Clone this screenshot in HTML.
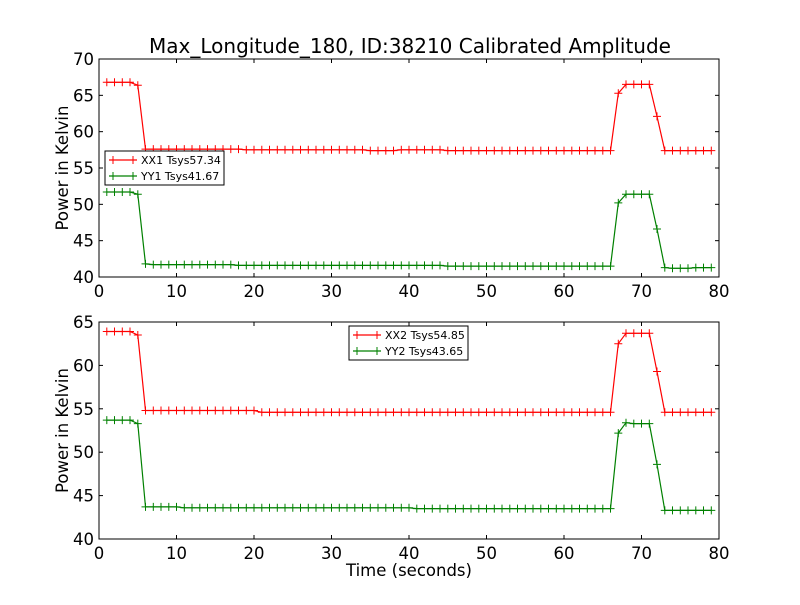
<!DOCTYPE html>
<html><head><meta charset="utf-8"><style>
body{margin:0;background:#fff;}
svg text{font-family:"DejaVu Sans","Liberation Sans",sans-serif;}
</style></head><body>
<svg id="chart" width="800" height="600" xmlns="http://www.w3.org/2000/svg"></svg>
<script>
const times=[1,2,3,4,5,6,7,8,9,10,11,12,13,14,15,16,17,18,19,20,21,22,23,24,25,26,27,28,29,30,31,32,33,34,35,36,37,38,39,40,41,42,43,44,45,46,47,48,49,50,51,52,53,54,55,56,57,58,59,60,61,62,63,64,65,66,67,68,69,70,71,72,73,74,75,76,77,78,79];
const xx1=[66.8,66.8,66.8,66.8,66.4,57.6,57.6,57.6,57.6,57.6,57.6,57.6,57.6,57.6,57.6,57.6,57.6,57.6,57.5,57.5,57.5,57.5,57.5,57.5,57.5,57.5,57.5,57.5,57.5,57.5,57.5,57.5,57.5,57.5,57.4,57.4,57.4,57.4,57.5,57.5,57.5,57.5,57.5,57.5,57.4,57.4,57.4,57.4,57.4,57.4,57.4,57.4,57.4,57.4,57.4,57.4,57.4,57.4,57.4,57.4,57.4,57.4,57.4,57.4,57.4,57.4,65.3,66.5,66.5,66.5,66.5,62.1,57.4,57.4,57.4,57.4,57.4,57.4,57.4];
const yy1=[51.7,51.7,51.7,51.7,51.4,41.8,41.7,41.7,41.7,41.7,41.7,41.7,41.7,41.7,41.7,41.7,41.7,41.6,41.6,41.6,41.6,41.6,41.6,41.6,41.6,41.6,41.6,41.6,41.6,41.6,41.6,41.6,41.6,41.6,41.6,41.6,41.6,41.6,41.6,41.6,41.6,41.6,41.6,41.6,41.5,41.5,41.5,41.5,41.5,41.5,41.5,41.5,41.5,41.5,41.5,41.5,41.5,41.5,41.5,41.5,41.5,41.5,41.5,41.5,41.5,41.5,50.2,51.4,51.4,51.4,51.4,46.6,41.3,41.2,41.2,41.2,41.3,41.3,41.3];
const xx2=[63.9,63.9,63.9,63.9,63.5,54.8,54.8,54.8,54.8,54.8,54.8,54.8,54.8,54.8,54.8,54.8,54.8,54.8,54.8,54.8,54.6,54.6,54.6,54.6,54.6,54.6,54.6,54.6,54.6,54.6,54.6,54.6,54.6,54.6,54.6,54.6,54.6,54.6,54.6,54.6,54.6,54.6,54.6,54.6,54.6,54.6,54.6,54.6,54.6,54.6,54.6,54.6,54.6,54.6,54.6,54.6,54.6,54.6,54.6,54.6,54.6,54.6,54.6,54.6,54.6,54.6,62.5,63.7,63.7,63.7,63.7,59.3,54.6,54.6,54.6,54.6,54.6,54.6,54.6];
const yy2=[53.7,53.7,53.7,53.7,53.3,43.7,43.7,43.7,43.7,43.7,43.6,43.6,43.6,43.6,43.6,43.6,43.6,43.6,43.6,43.6,43.6,43.6,43.6,43.6,43.6,43.6,43.6,43.6,43.6,43.6,43.6,43.6,43.6,43.6,43.6,43.6,43.6,43.6,43.6,43.6,43.5,43.5,43.5,43.5,43.5,43.5,43.5,43.5,43.5,43.5,43.5,43.5,43.5,43.5,43.5,43.5,43.5,43.5,43.5,43.5,43.5,43.5,43.5,43.5,43.5,43.5,52.2,53.4,53.3,53.3,53.3,48.6,43.3,43.3,43.3,43.3,43.3,43.3,43.3];
const xTicks=[0,10,20,30,40,50,60,70,80];
const yTicksTop=[40,45,50,55,60,65,70];
const yTicksBot=[40,45,50,55,60,65];
const legendTop=["XX1 Tsys57.34","YY1 Tsys41.67"];
const legendBot=["XX2 Tsys54.85","YY2 Tsys43.65"];

const svg=document.getElementById('chart');
const NS="http://www.w3.org/2000/svg";
function mk(tag,attrs,parent){const e=document.createElementNS(NS,tag);for(const k in attrs)e.setAttribute(k,attrs[k]);(parent||svg).appendChild(e);return e;}

function panel(key,top,bottom,ymin,ymax,yTicks,series,legend,legendPos,showXLabel){
  const L=99,R=719;
  const g=mk('g',{});
  
  
  const sx=v=>L+(v-0)/(80-0)*(R-L);
  const sy=v=>bottom-(v-ymin)/(ymax-ymin)*(bottom-top);
  mk('rect',{x:L,y:top,width:R-L,height:bottom-top,fill:'#fff',stroke:'none'},g);
  series.forEach(s=>{
    const pts=times.map((t,i)=>sx(t).toFixed(1)+','+sy(s.vals[i]).toFixed(1)).join(' ');
    const pl=mk('polyline',{points:pts,fill:'none',stroke:s.color,'stroke-width':1.2},g);
    
    
    let d='';
    times.forEach((t,i)=>{const x=sx(t),y=sy(s.vals[i]);d+=`M${(x-4).toFixed(1)},${y.toFixed(1)}h8M${x.toFixed(1)},${(y-4).toFixed(1)}v8`;});
    const mp=mk('path',{d:d,stroke:s.color,'stroke-width':1,fill:'none'},g);
    
    
  });
  mk('rect',{x:L,y:top,width:R-L,height:bottom-top,fill:'none',stroke:'#000','stroke-width':1},g);
  xTicks.forEach(v=>{
    const x=sx(v);
    mk('line',{x1:x,y1:bottom,x2:x,y2:bottom-4,stroke:'#000'},g);
    mk('line',{x1:x,y1:top,x2:x,y2:top+4,stroke:'#000'},g);
    const t=mk('text',{x:x,y:bottom+20,'font-size':16.5,'text-anchor':'middle'},g);
    t.textContent=v;
    
    
  });
  yTicks.forEach(v=>{
    const y=sy(v);
    mk('line',{x1:L,y1:y,x2:L+4,y2:y,stroke:'#000'},g);
    mk('line',{x1:R,y1:y,x2:R-4,y2:y,stroke:'#000'},g);
    const t=mk('text',{x:L-5,y:y+6,'font-size':16.5,'text-anchor':'end'},g);
    t.textContent=v;
    
    
  });
  const yl=mk('text',{x:0,y:0,'font-size':16.5,'text-anchor':'middle',transform:`translate(68,${(top+bottom)/2}) rotate(-90)`},g);
  yl.textContent='Power in Kelvin';
  
  
  if(showXLabel){
    const xl=mk('text',{x:(L+R)/2,y:bottom+37,'font-size':16.5,'text-anchor':'middle'},g);
    xl.textContent='Time (seconds)';
    
    
  }
  const lg=mk('g',{},g);
  
  
  mk('rect',{x:legendPos[0],y:legendPos[1],width:119,height:34,fill:'#fff',stroke:'#000','stroke-width':1},lg);
  series.forEach((s,i)=>{
    const y=legendPos[1]+9+i*16;
    const x0=legendPos[0]+4;
    const e=mk('g',{},lg);
    
    
    mk('line',{x1:x0,y1:y,x2:x0+28,y2:y,stroke:s.color,'stroke-width':1.2},e);
    mk('path',{d:`M${x0+4},${y-4}v8M${x0+24},${y-4}v8`,stroke:s.color},e);
    const t=mk('text',{x:x0+32,y:y+4,'font-size':11},e);
    t.textContent=legend[i];
  });
}
const title=mk('text',{x:410,y:53,'font-size':20,'text-anchor':'middle'});
title.textContent='Max_Longitude_180, ID:38210 Calibrated Amplitude';


panel('top',59,277,40,70,yTicksTop,[{name:'xx1',vals:xx1,color:'#ff0000'},{name:'yy1',vals:yy1,color:'#008000'}],legendTop,[105,151],false);
panel('bottom',322,539,40,65,yTicksBot,[{name:'xx2',vals:xx2,color:'#ff0000'},{name:'yy2',vals:yy2,color:'#008000'}],legendBot,[349,326],true);
</script>
</body></html>
